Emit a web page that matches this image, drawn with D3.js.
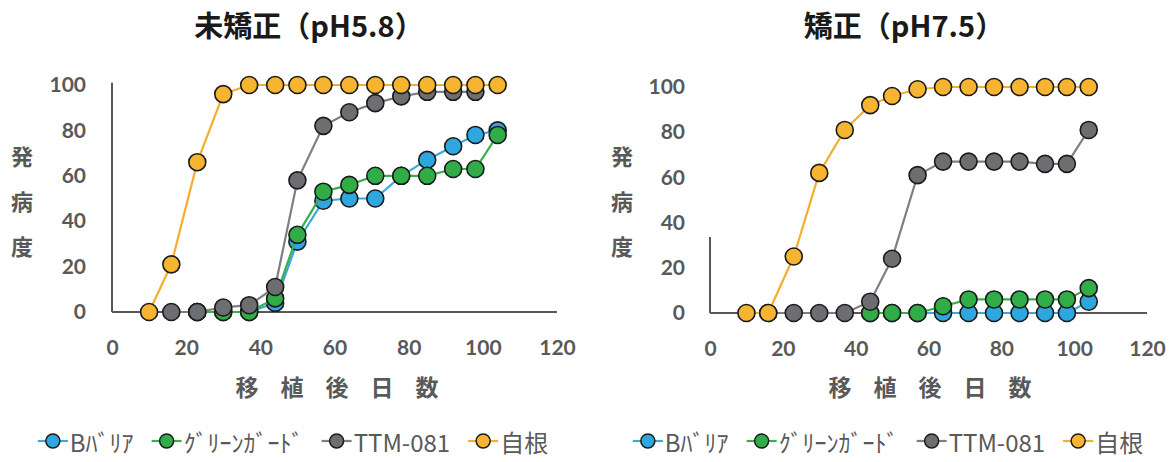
<!DOCTYPE html>
<html>
<head>
<meta charset="utf-8">
<script src="https://cdn.jsdelivr.net/npm/d3@7"></script>
<style>
  html, body { margin: 0; padding: 0; background: #fff; }
  svg { display: block; }
  .tick text { font-family: Lato, "Noto Sans", sans-serif; font-weight: 700; font-size: 21px; fill: #595959; }
</style>
</head>
<body>
<svg id="chart" width="1172" height="462"></svg>
<script>
// Days after transplanting at each survey
const days = [10, 16, 23, 30, 37, 44, 50, 57, 64, 71, 78, 85, 92, 98, 104];

// Disease severity, uncorrected soil (pH 5.8)
const barrierLow = [null, null, 0, 0, 0, 4, 31, 49, 50, 50, 60, 67, 73, 78, 80];
const greenGuardLow = [null, null, 0, 0, 0, 6, 34, 53, 56, 60, 60, 60, 63, 63, 78];
const ttmLow = [null, 0, 0, 2, 3, 11, 58, 82, 88, 92, 95, 97, 97, 97, null];
const ownRootLow = [0, 21, 66, 96, 100, 100, 100, 100, 100, 100, 100, 100, 100, 100, 100];

// Disease severity, corrected soil (pH 7.5)
const barrierHigh = [null, null, null, null, null, 0, 0, 0, 0, 0, 0, 0, 0, 0, 5];
const greenGuardHigh = [null, null, null, null, null, 0, 0, 0, 3, 6, 6, 6, 6, 6, 11];
const ttmHigh = [null, 0, 0, 0, 0, 5, 24, 61, 67, 67, 67, 67, 66, 66, 81];
const ownRootHigh = [0, 0, 25, 62, 81, 92, 96, 99, 100, 100, 100, 100, 100, 100, 100];

const seriesNames = ["Bﾊﾞﾘｱ", "ｸﾞﾘｰﾝｶﾞｰﾄﾞ", "TTM-081", "自根"];
const xTicks = [0, 20, 40, 60, 80, 100, 120];
const yTicks = [0, 20, 40, 60, 80, 100];
const titles = ["未矯正（pH5.8）", "矯正（pH7.5）"];
const yTitle = ["発", "病", "度"];
const xTitle = ["移", "植", "後", "日", "数"];

const lineColors = ["#3aa8de", "#3aae4a", "#7f7f7f", "#f4ae2b"];
const dotColors = ["#2ea6df", "#31ad48", "#6d6e71", "#f6b431"];
const textGray = "#595959";
const cjk = '"Noto Sans CJK JP", "Noto Sans", sans-serif';

const svg = d3.select("#chart");
svg.append("rect").attr("width", 1172).attr("height", 462).attr("fill", "#fff");

const panels = [
  { left: 112, right: 557, top: 85, bottom: 312, yAxisTop: 101, titleX: 309, yTitleX: 22, xTitleCx: 337, legendCx: 293,
    series: [barrierLow, greenGuardLow, ttmLow, ownRootLow] },
  { left: 710, right: 1147, top: 87, bottom: 313, yAxisTop: 33.6, titleX: 904, yTitleX: 622, xTitleCx: 930, legendCx: 888,
    series: [barrierHigh, greenGuardHigh, ttmHigh, ownRootHigh] }
];

panels.forEach((p, pi) => {
  const g = svg.append("g");
  const x = d3.scaleLinear().domain([0, 120]).range([p.left, p.right]);
  const y = d3.scaleLinear().domain([0, 100]).range([p.bottom, p.top]);

  // Title
  g.append("text")
    .attr("x", p.titleX).attr("y", 37)
    .attr("text-anchor", "middle")
    .style("font-family", cjk).style("font-weight", 700).style("font-size", "29px")
    .attr("fill", "#1a1a1a")
    .text(titles[pi]);

  // Tick labels
  const xAxis = g.append("g")
    .attr("transform", `translate(0,${y(0)})`)
    .call(d3.axisBottom(x).tickValues(xTicks).tickSize(0).tickPadding(28).tickFormat(d3.format("d")));
  xAxis.select(".domain").remove();

  const yAxis = g.append("g")
    .attr("transform", `translate(${x(0)},0)`)
    .call(d3.axisLeft(y).tickValues(yTicks).tickSize(0).tickPadding(pi === 0 ? 26 : 25).tickFormat(d3.format("d")));
  yAxis.select(".domain").remove();

  // Axis lines
  g.append("line")
    .attr("x1", x(0)).attr("x2", x(0))
    .attr("y1", y(0)).attr("y2", y(p.yAxisTop))
    .attr("stroke", "#5a5758").attr("stroke-width", 2);
  g.append("line")
    .attr("x1", x(0)).attr("x2", x(120))
    .attr("y1", y(0)).attr("y2", y(0))
    .attr("stroke", "#5a5758").attr("stroke-width", 2);

  // Axis titles, one glyph at a time
  yTitle.forEach((ch, i) => {
    g.append("text")
      .attr("x", p.yTitleX).attr("y", 155 + i * 45)
      .attr("text-anchor", "middle").attr("dominant-baseline", "central")
      .style("font-family", cjk).style("font-weight", 700).style("font-size", "22px")
      .attr("fill", textGray)
      .text(ch);
  });
  xTitle.forEach((ch, i) => {
    g.append("text")
      .attr("x", p.xTitleCx + (i - 2) * 45).attr("y", 386)
      .attr("text-anchor", "middle").attr("dominant-baseline", "central")
      .style("font-family", cjk).style("font-weight", 700).style("font-size", "23px")
      .attr("fill", textGray)
      .text(ch);
  });

  // Series lines and markers
  p.series.forEach((vals, si) => {
    const pts = days.map((d, i) => ({ d, v: vals[i] })).filter(o => o.v !== null);
    const line = d3.line().x(o => x(o.d)).y(o => y(o.v));
    g.append("path")
      .datum(pts)
      .attr("d", line)
      .attr("fill", "none")
      .attr("stroke", lineColors[si])
      .attr("stroke-width", 2.2);
    g.append("g").selectAll("circle")
      .data(pts)
      .join("circle")
      .attr("cx", o => x(o.d)).attr("cy", o => y(o.v))
      .attr("r", 8.5)
      .attr("fill", dotColors[si])
      .attr("stroke", "#1b1b1b").attr("stroke-width", 1.6);
  });

  // Legend
  const lg = g.append("g");
  const items = seriesNames.map((name, si) => {
    const it = lg.append("g");
    it.append("line").attr("x1", 0).attr("x2", 30).attr("y1", 0).attr("y2", 0)
      .attr("stroke", lineColors[si]).attr("stroke-width", 2.2);
    it.append("circle").attr("cx", 15).attr("cy", 0).attr("r", 7)
      .attr("fill", dotColors[si]).attr("stroke", "#1b1b1b").attr("stroke-width", 1.5);
    const t = it.append("text").attr("x", 32).attr("y", 0)
      .attr("dominant-baseline", "central")
      .style("font-family", cjk).style("font-size", "24px")
      .attr("fill", textGray)
      .text(name);
    return { it, w: 32 + t.node().getComputedTextLength() };
  });
  const gap = 18;
  const total = d3.sum(items, o => o.w) + gap * (items.length - 1);
  let cx = p.legendCx - total / 2;
  items.forEach(o => {
    o.it.attr("transform", `translate(${cx},441)`);
    cx += o.w + gap;
  });
});
</script>
</body>
</html>
